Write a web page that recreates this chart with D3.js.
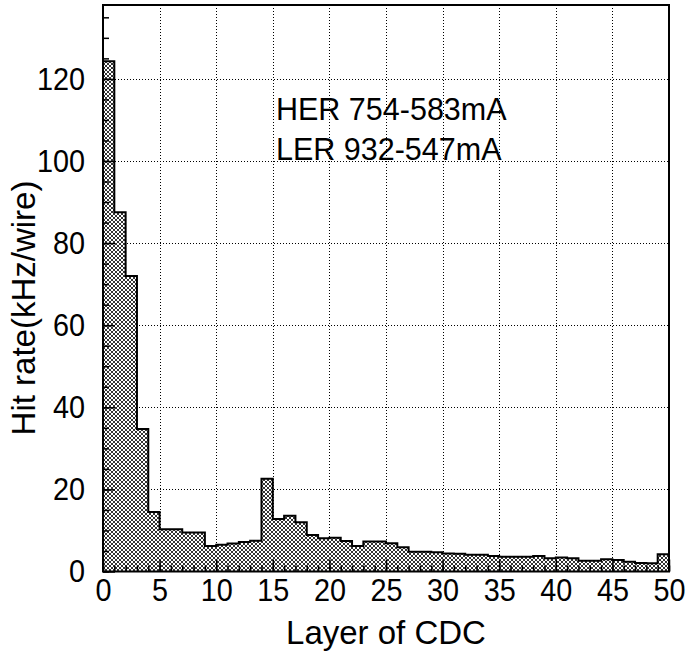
<!DOCTYPE html>
<html>
<head>
<meta charset="utf-8">
<script src="https://cdn.jsdelivr.net/npm/d3@7"></script>
<style>
  html, body { margin: 0; padding: 0; background: #fff; }
  svg { display: block; }
  text { font-family: "Liberation Sans", Arial, Helvetica, sans-serif; fill: #000; }
</style>
</head>
<body>
<svg id="chart" width="689" height="651"></svg>
<script>
// CDC layer index (bin lower edges) and hit rate per wire in kHz
const layers = [0,1,2,3,4,5,6,7,8,9,10,11,12,13,14,15,16,17,18,19,20,21,22,23,24,
                25,26,27,28,29,30,31,32,33,34,35,36,37,38,39,40,41,42,43,44,45,46,47,48,49];
const hitRate = [124.3, 87.5, 72.0, 34.7, 14.5, 10.3, 10.3, 9.5, 9.5, 6.2,
                 6.5, 6.8, 7.2, 7.5, 22.6, 12.8, 13.6, 12.0, 8.9, 8.1,
                 8.2, 7.4, 6.2, 7.3, 7.3, 6.9, 5.9, 4.8, 4.8, 4.7,
                 4.4, 4.3, 4.1, 4.1, 3.8, 3.6, 3.6, 3.6, 3.8, 3.2,
                 3.4, 3.2, 2.6, 2.6, 3.0, 2.8, 2.4, 2.1, 2.0, 4.2];
const xMajorTicks = [0, 5, 10, 15, 20, 25, 30, 35, 40, 45, 50];
const yMajorTicks = [0, 20, 40, 60, 80, 100, 120];
const beamLines = ["HER 754-583mA", "LER 932-547mA"];

const svg = d3.select("#chart");
const frame = { left: 103, right: 669, top: 5, bottom: 571.5 };

const x = d3.scaleLinear().domain([0, 50]).range([frame.left, frame.right]);
const y = d3.scaleLinear().domain([0, 138]).range([frame.bottom, frame.top]);

// cross-hatch fill (two 45-degree line families, 4 px period)
const defs = svg.append("defs");
const pat = defs.append("pattern")
  .attr("id", "xhatch").attr("patternUnits", "userSpaceOnUse")
  .attr("width", 4).attr("height", 4);
pat.append("rect").attr("width", 4).attr("height", 4).attr("fill", "#fff");
pat.append("path").attr("d", "M0,0L4,4M0,4L4,0M-1,1L1,-1M3,5L5,3M-1,3L1,5M3,-1L5,1")
  .attr("stroke", "#000").attr("stroke-width", 0.8);

// dotted grid
const grid = svg.append("g").attr("stroke", "#000").attr("stroke-width", 1)
  .attr("stroke-dasharray", "1,2");
grid.selectAll("line.v").data(xMajorTicks.filter(v => v > 0 && v < 50)).join("line")
  .attr("x1", d => Math.round(x(d)) + 0.5).attr("x2", d => Math.round(x(d)) + 0.5)
  .attr("y1", frame.top).attr("y2", frame.bottom);
grid.selectAll("line.h").data(yMajorTicks.filter(v => v > 0)).join("line")
  .attr("y1", d => Math.round(y(d)) + 0.5).attr("y2", d => Math.round(y(d)) + 0.5)
  .attr("x1", frame.left).attr("x2", frame.right);

// histogram as a step outline
const bins = layers.map((l, i) => ({ x0: l, x1: l + 1, v: hitRate[i] }));
const pts = [[x(0), y(0)]];
bins.forEach(b => { pts.push([x(b.x0), y(b.v)]); pts.push([x(b.x1), y(b.v)]); });
pts.push([x(50), y(0)]);
const area = d3.line()(pts) + "Z";
svg.append("path").attr("d", area).attr("fill", "url(#xhatch)").attr("stroke", "none");
svg.append("path").attr("d", d3.line()(pts.slice(1, -1)))
  .attr("fill", "none").attr("stroke", "#000").attr("stroke-width", 2)
  .attr("stroke-linejoin", "miter");

// axes with inward ticks
const xMinor = svg.append("g").attr("transform", `translate(0,${frame.bottom})`)
  .call(d3.axisBottom(x).tickValues(layers.concat([50])).tickSize(-6).tickFormat(""));
const xMajor = svg.append("g").attr("transform", `translate(0,${frame.bottom})`)
  .call(d3.axisBottom(x).tickValues(xMajorTicks).tickSize(-12).tickPadding(7)
    .tickFormat(d3.format("d")));
const yMinorVals = d3.range(0, 136, 5);
const yMinor = svg.append("g").attr("transform", `translate(${frame.left},0)`)
  .call(d3.axisLeft(y).tickValues(yMinorVals).tickSize(-6).tickFormat(""));
const yMajor = svg.append("g").attr("transform", `translate(${frame.left},0)`)
  .call(d3.axisLeft(y).tickValues(yMajorTicks).tickSize(-12).tickPadding(18)
    .tickFormat(d3.format("d")));
[xMinor, xMajor, yMinor, yMajor].forEach(g => {
  g.select(".domain").remove();
  g.selectAll(".tick line").attr("stroke", "#000").attr("stroke-width", 1.5);
  g.selectAll("text").attr("font-size", 32)
    .attr("font-family", '"Liberation Sans", Arial, sans-serif').attr("fill", "#000")
    .each(function () {
      const w = this.getComputedTextLength();
      d3.select(this).attr("textLength", w * 0.9).attr("lengthAdjust", "spacingAndGlyphs");
    });
});

// frame
svg.append("rect")
  .attr("x", frame.left).attr("y", frame.top)
  .attr("width", frame.right - frame.left).attr("height", frame.bottom - frame.top)
  .attr("fill", "none").attr("stroke", "#000").attr("stroke-width", 2);

// axis titles
svg.append("text").attr("x", 386).attr("y", 644).attr("text-anchor", "middle")
  .attr("font-size", 33).text("Layer of CDC");
svg.append("text").attr("transform", "translate(35,308) rotate(-90)")
  .attr("text-anchor", "middle").attr("font-size", 33).text("Hit rate(kHz/wire)");

// beam currents annotation
svg.selectAll("text.beam").data(beamLines).join("text").attr("class", "beam")
  .attr("x", 276).attr("y", (d, i) => 120 + i * 40)
  .attr("font-size", 30.5).text(d => d);
</script>
</body>
</html>
